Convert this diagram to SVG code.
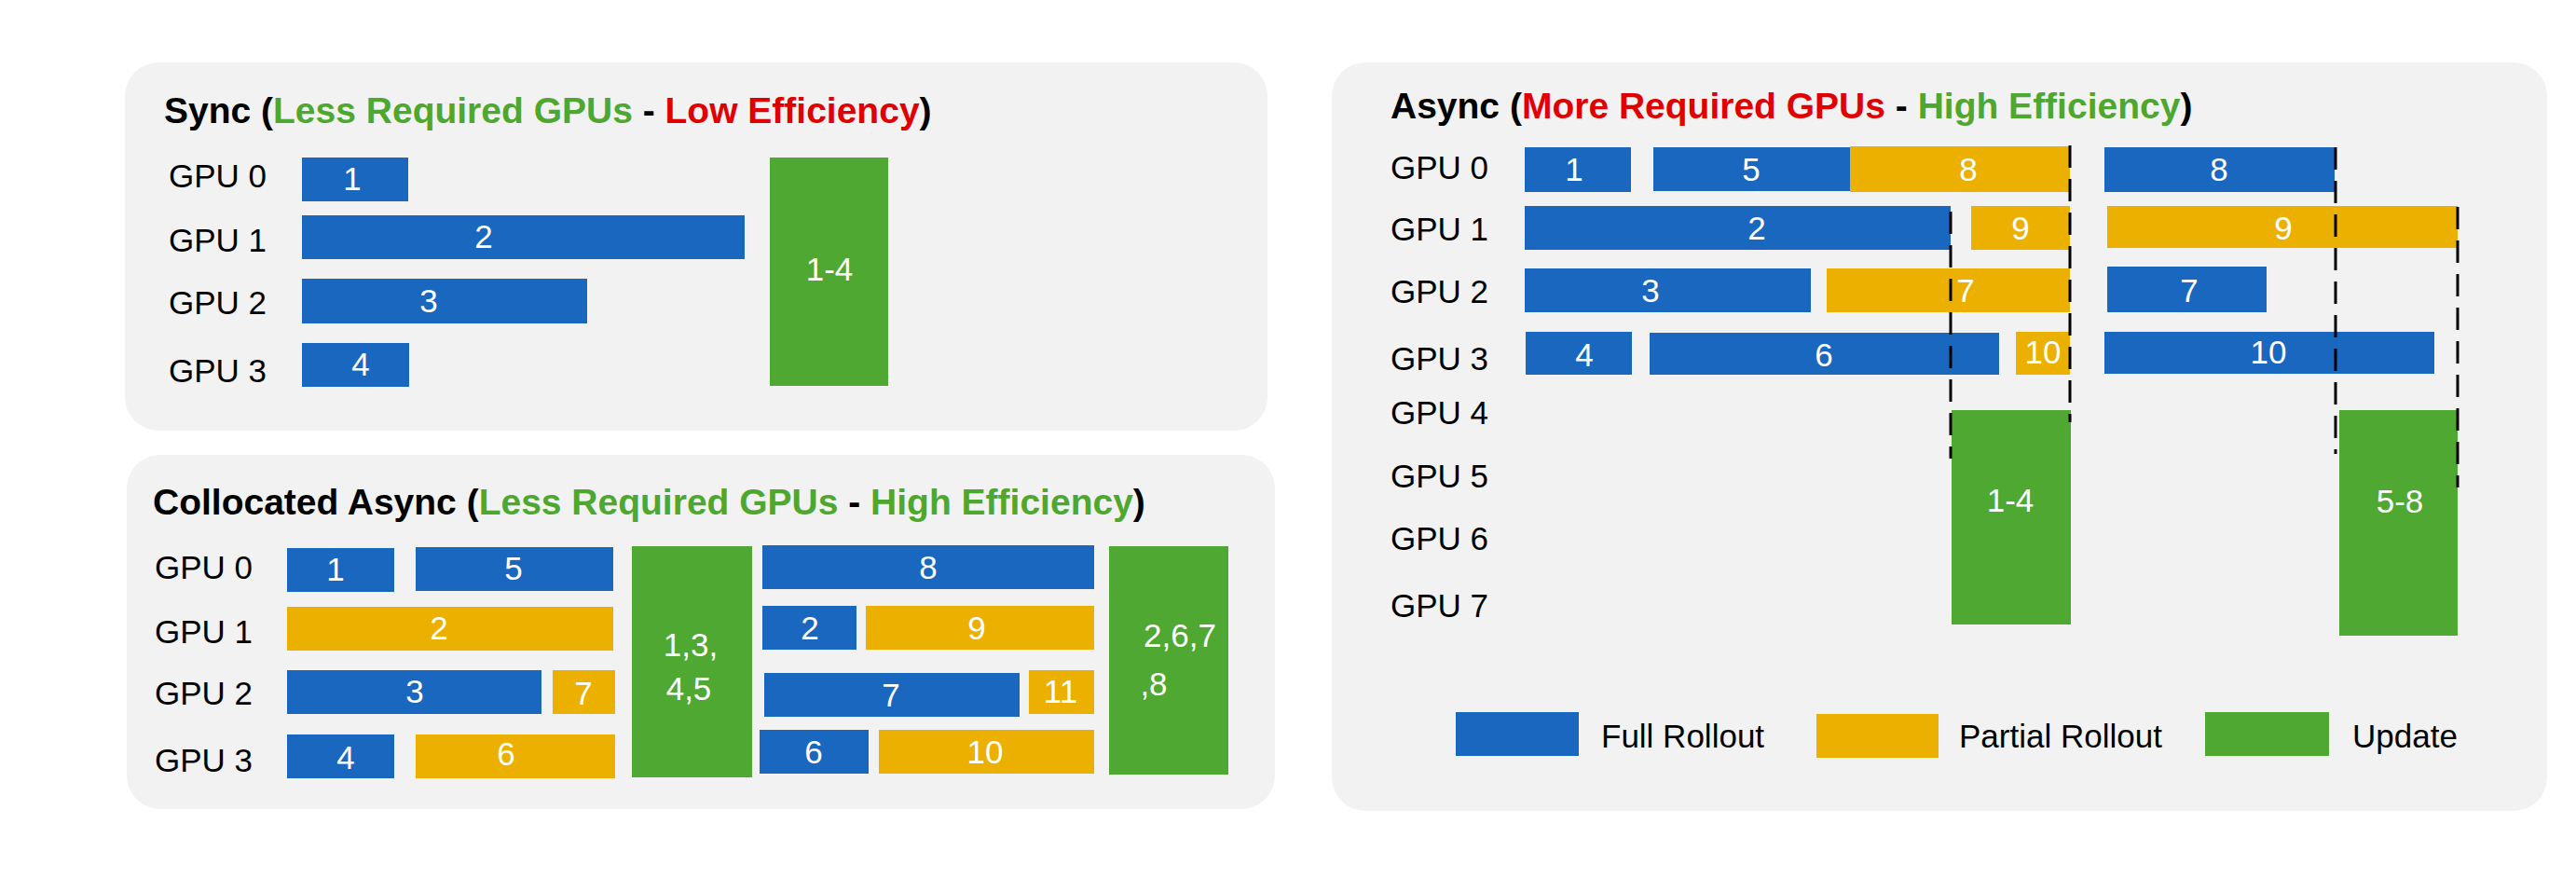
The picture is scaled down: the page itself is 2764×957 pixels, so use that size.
<svg xmlns="http://www.w3.org/2000/svg" width="2764" height="957" viewBox="0 0 2764 957">
<style>
.p{fill:#F2F2F2}
.b{fill:#1967BE}.y{fill:#EBB000}.g{fill:#4FA831}
.t{font-family:"Liberation Sans",Arial,sans-serif;font-weight:bold;font-size:39px;fill:#000}
.gt{fill:#4EA72E}.rt{fill:#E00000}
.l{font-family:"Liberation Sans",Arial,sans-serif;font-size:35px;fill:#000}
.n{font-family:"Liberation Sans",Arial,sans-serif;font-size:35px;fill:#fff;text-anchor:middle}
.d{stroke:#000;stroke-width:3;stroke-dasharray:24 12;fill:none}
</style>
<rect width="2764" height="957" fill="#fff"/>
<g id="sync">
<rect class="p" x="134" y="67" width="1226" height="395" rx="36"/>
<text class="t" x="176" y="132">Sync (<tspan class="gt">Less Required GPUs</tspan> - <tspan class="rt">Low Efficiency</tspan>)</text>
<text class="l" x="181" y="201">GPU 0</text><text class="l" x="181" y="270">GPU 1</text><text class="l" x="181" y="337">GPU 2</text><text class="l" x="181" y="410">GPU 3</text>
<rect class="b" x="324" y="169" width="114" height="47"/><text class="n" x="378" y="204">1</text>
<rect class="b" x="324" y="231" width="475" height="47"/><text class="n" x="519" y="266">2</text>
<rect class="b" x="324" y="299" width="306" height="48"/><text class="n" x="460" y="335">3</text>
<rect class="b" x="324" y="368" width="115" height="47"/><text class="n" x="387" y="403">4</text>
<rect class="g" x="826" y="169" width="127" height="245"/><text class="n" x="890" y="301">1-4</text>
</g>
<g id="collocated">
<rect class="p" x="136" y="488" width="1232" height="380" rx="36"/>
<text class="t" x="164" y="552">Collocated Async (<tspan class="gt">Less Required GPUs</tspan> - <tspan class="gt">High Efficiency</tspan>)</text>
<text class="l" x="166" y="621">GPU 0</text><text class="l" x="166" y="690">GPU 1</text><text class="l" x="166" y="756">GPU 2</text><text class="l" x="166" y="828">GPU 3</text>
<rect class="b" x="308" y="588" width="115" height="47"/><text class="n" x="360" y="623">1</text>
<rect class="b" x="446" y="587" width="212" height="47"/><text class="n" x="551" y="622">5</text>
<rect class="g" x="678" y="586" width="129" height="248"/><text class="n" x="741" y="704">1,3,</text><text class="n" x="739" y="751">4,5</text>
<rect class="b" x="818" y="585" width="356" height="47"/><text class="n" x="996" y="621">8</text>
<rect class="g" x="1190" y="586" width="128" height="245"/><text class="n" x="1266" y="694">2,6,7</text><text class="n" x="1238" y="746">,8</text>
<rect class="y" x="308" y="651" width="350" height="47"/><text class="n" x="471" y="686">2</text>
<rect class="b" x="818" y="650" width="101" height="47"/><text class="n" x="869" y="686">2</text>
<rect class="y" x="929" y="650" width="245" height="47"/><text class="n" x="1048" y="686">9</text>
<rect class="b" x="308" y="719" width="273" height="47"/><text class="n" x="445" y="754">3</text>
<rect class="y" x="593" y="719" width="67" height="47"/><text class="n" x="626" y="756">7</text>
<rect class="b" x="820" y="722" width="274" height="47"/><text class="n" x="956" y="758">7</text>
<rect class="y" x="1104" y="719" width="70" height="47"/><text class="n" x="1138" y="754">11</text>
<rect class="b" x="308" y="788" width="115" height="47"/><text class="n" x="371" y="825">4</text>
<rect class="y" x="446" y="788" width="214" height="47"/><text class="n" x="543" y="821">6</text>
<rect class="b" x="815" y="783" width="117" height="47"/><text class="n" x="873" y="819">6</text>
<rect class="y" x="943" y="783" width="231" height="47"/><text class="n" x="1057" y="819">10</text>
</g>
<g id="async">
<rect class="p" x="1429" y="67" width="1304" height="803" rx="36"/>
<text class="t" x="1492" y="127">Async (<tspan class="rt">More Required GPUs</tspan> - <tspan class="gt">High Efficiency</tspan>)</text>
<text class="l" x="1492" y="192">GPU 0</text><text class="l" x="1492" y="258">GPU 1</text><text class="l" x="1492" y="325">GPU 2</text><text class="l" x="1492" y="397">GPU 3</text>
<text class="l" x="1492" y="455">GPU 4</text><text class="l" x="1492" y="523">GPU 5</text><text class="l" x="1492" y="590">GPU 6</text><text class="l" x="1492" y="662">GPU 7</text>
<rect class="b" x="1636" y="158" width="114" height="48"/><text class="n" x="1689" y="194">1</text>
<rect class="b" x="1774" y="158" width="211" height="47"/><text class="n" x="1879" y="194">5</text>
<rect class="y" x="1985" y="157" width="236" height="49"/><text class="n" x="2112" y="194">8</text>
<rect class="b" x="2258" y="158" width="247" height="48"/><text class="n" x="2381" y="194">8</text>
<rect class="b" x="1636" y="221" width="457" height="47"/><text class="n" x="1885" y="257">2</text>
<rect class="y" x="2115" y="221" width="106" height="47"/><text class="n" x="2168" y="257">9</text>
<rect class="y" x="2261" y="221" width="376" height="45"/><text class="n" x="2450" y="257">9</text>
<rect class="b" x="1636" y="288" width="307" height="47"/><text class="n" x="1771" y="324">3</text>
<rect class="y" x="1960" y="288" width="261" height="47"/><text class="n" x="2109" y="324">7</text>
<rect class="b" x="2261" y="286" width="171" height="49"/><text class="n" x="2349" y="324">7</text>
<rect class="b" x="1637" y="356" width="114" height="46"/><text class="n" x="1700" y="393">4</text>
<rect class="b" x="1770" y="357" width="375" height="45"/><text class="n" x="1957" y="393">6</text>
<rect class="y" x="2163" y="356" width="58" height="46"/><text class="n" x="2192" y="390">10</text>
<rect class="b" x="2258" y="356" width="354" height="45"/><text class="n" x="2434" y="390">10</text>
<rect class="g" x="2094" y="440" width="128" height="230"/><text class="n" x="2157" y="549">1-4</text>
<rect class="g" x="2510" y="440" width="127" height="242"/><text class="n" x="2575" y="550">5-8</text>
<rect class="b" x="1562" y="764" width="132" height="47"/><text class="l" x="1718" y="802">Full Rollout</text>
<rect class="y" x="1949" y="766" width="131" height="47"/><text class="l" x="2102" y="802">Partial Rollout</text>
<rect class="g" x="2366" y="764" width="133" height="47"/><text class="l" x="2524" y="802">Update</text>
</g>
<g id="connectors">
<line class="d" x1="2093" y1="227" x2="2093" y2="492"/>
<line class="d" x1="2221" y1="156" x2="2221" y2="453"/>
<line class="d" x1="2506" y1="158" x2="2506" y2="487"/>
<line class="d" x1="2637" y1="222" x2="2637" y2="523"/>
</g>
</svg>
